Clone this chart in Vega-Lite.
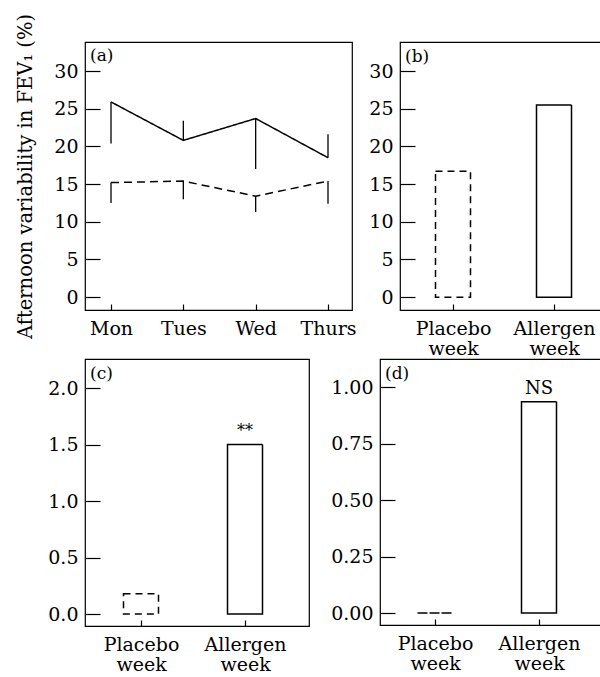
{
  "$schema": "https://vega.github.io/schema/vega-lite/v6.json",
  "padding": {"left": 14, "top": 12, "right": 0, "bottom": 0},
  "background": "white",
  "config": {
    "font": "DejaVu Serif",
    "view": {"stroke": "black", "strokeWidth": 1.2},
    "axis": {
      "domain": false, "grid": false, "tickColor": "black", "tickWidth": 1.2,
      "labelColor": "black", "labelFont": "DejaVu Serif", "labelFontSize": 19,
      "titleFont": "DejaVu Serif", "titleFontSize": 19.5, "titleFontWeight": "normal", "titleColor": "black"
    },
    "axisY": {"tickSize": -15, "labelPadding": 22},
    "axisX": {"tickSize": -6, "labelPadding": 15, "labelAngle": 0, "labelLineHeight": 20, "labelBaseline": "top"},
    "title": {"font": "DejaVu Serif", "fontSize": 17, "fontWeight": "normal", "anchor": "start", "offset": -24, "dx": 5, "color": "black", "frame": "group"}
  },
  "datasets": {
    "weekly": [
      {"day": "Mon", "group": "Allergen", "value": 25.9, "err": 20.4},
      {"day": "Tues", "group": "Allergen", "value": 20.8, "err": 23.4},
      {"day": "Wed", "group": "Allergen", "value": 23.7, "err": 17.0},
      {"day": "Thurs", "group": "Allergen", "value": 18.5, "err": 21.6},
      {"day": "Mon", "group": "Placebo", "value": 15.2, "err": 12.5},
      {"day": "Tues", "group": "Placebo", "value": 15.4, "err": 13.0},
      {"day": "Wed", "group": "Placebo", "value": 13.4, "err": 11.3},
      {"day": "Thurs", "group": "Placebo", "value": 15.4, "err": 12.4}
    ],
    "panelB": [
      {"week": "Placebo week", "value": 16.7},
      {"week": "Allergen week", "value": 25.5}
    ],
    "panelC": [
      {"week": "Placebo week", "value": 0.18, "note": ""},
      {"week": "Allergen week", "value": 1.5, "note": "**"}
    ],
    "panelD": [
      {"week": "Placebo week", "value": 0.0, "note": ""},
      {"week": "Allergen week", "value": 0.935, "note": "NS"}
    ]
  },
  "vconcat": [
    {
      "hconcat": [
        {
          "width": 267, "height": 268,
          "title": {"text": "(a)", "offset": -52},
          "data": {"name": "weekly"},
          "encoding": {
            "x": {"field": "day", "type": "ordinal", "sort": ["Mon", "Tues", "Wed", "Thurs"],
                  "scale": {"type": "point", "range": [26, 243], "padding": 0},
                  "axis": {"title": null}},
            "y": {"field": "value", "type": "quantitative",
                  "scale": {"domain": [-1.7, 33.85], "nice": false, "zero": false},
                  "axis": {"values": [0, 5, 10, 15, 20, 25, 30],
                           "title": "Afternoon variability in FEV₁ (%)",
                           "titleX": -60, "titleBaseline": "middle", "titleAngle": -90}}
          },
          "layer": [
            {"mark": {"type": "rule", "color": "black", "strokeWidth": 1.3},
             "encoding": {"y2": {"field": "err"}}},
            {"mark": {"type": "line", "color": "black", "strokeWidth": 1.5},
             "encoding": {
               "detail": {"field": "group"},
               "strokeDash": {"condition": {"test": "datum.group === 'Placebo'", "value": [8, 5]}, "value": [1, 0]}
             }}
          ]
        },
        {
          "width": 215, "height": 268,
          "title": {"text": "(b)"},
          "data": {"name": "panelB"},
          "mark": {"type": "bar", "fill": "white", "stroke": "black", "strokeWidth": 1.5, "width": 35},
          "encoding": {
            "x": {"field": "week", "type": "nominal", "sort": ["Placebo week", "Allergen week"],
                  "scale": {"type": "point", "range": [53, 154], "padding": 0},
                  "axis": {"title": null, "labelExpr": "split(datum.label, ' ')"}},
            "y": {"field": "value", "type": "quantitative",
                  "scale": {"domain": [-1.7, 33.85], "nice": false, "zero": false},
                  "axis": {"values": [0, 5, 10, 15, 20, 25, 30], "title": null}},
            "y2": {"datum": 0},
            "strokeDash": {"condition": {"test": "datum.week === 'Placebo week'", "value": [7, 5]}, "value": [1, 0]}
          }
        }
      ],
      "spacing": 48,
      "bounds": "flush"
    },
    {
      "hconcat": [
        {
          "width": 224, "height": 267,
          "title": {"text": "(c)"},
          "data": {"name": "panelC"},
          "encoding": {
            "x": {"field": "week", "type": "nominal", "sort": ["Placebo week", "Allergen week"],
                  "scale": {"type": "point", "range": [56, 160], "padding": 0},
                  "axis": {"title": null, "labelExpr": "split(datum.label, ' ')"}},
            "y": {"field": "value", "type": "quantitative",
                  "scale": {"domain": [-0.106, 2.257], "nice": false, "zero": false},
                  "axis": {"values": [0, 0.5, 1, 1.5, 2], "format": ".1f", "title": null}}
          },
          "layer": [
            {"mark": {"type": "bar", "fill": "white", "stroke": "black", "strokeWidth": 1.5, "width": 35},
             "encoding": {
               "y2": {"datum": 0},
               "strokeDash": {"condition": {"test": "datum.week === 'Placebo week'", "value": [7, 5]}, "value": [1, 0]}
             }},
            {"mark": {"type": "text", "fontSize": 16, "baseline": "alphabetic", "dy": -9, "fill": "black"},
             "encoding": {"text": {"field": "note"}}}
          ]
        },
        {
          "width": 222, "height": 266,
          "title": {"text": "(d)"},
          "data": {"name": "panelD"},
          "encoding": {
            "x": {"field": "week", "type": "nominal", "sort": ["Placebo week", "Allergen week"],
                  "scale": {"type": "point", "range": [55, 159], "padding": 0},
                  "axis": {"title": null, "labelExpr": "split(datum.label, ' ')"}},
            "y": {"field": "value", "type": "quantitative",
                  "scale": {"domain": [-0.053, 1.124], "nice": false, "zero": false},
                  "axis": {"values": [0, 0.25, 0.5, 0.75, 1], "format": ".2f", "title": null}}
          },
          "layer": [
            {"mark": {"type": "bar", "fill": "white", "stroke": "black", "strokeWidth": 1.5, "width": 35},
             "encoding": {
               "y2": {"datum": 0},
               "strokeDash": {"condition": {"test": "datum.week === 'Placebo week'", "value": [7, 5]}, "value": [1, 0]}
             }},
            {"mark": {"type": "text", "fontSize": 18, "baseline": "alphabetic", "dy": -8, "fill": "black"},
             "encoding": {"text": {"field": "note"}}}
          ]
        }
      ],
      "spacing": 71,
      "bounds": "flush"
    }
  ],
  "spacing": -1
}
